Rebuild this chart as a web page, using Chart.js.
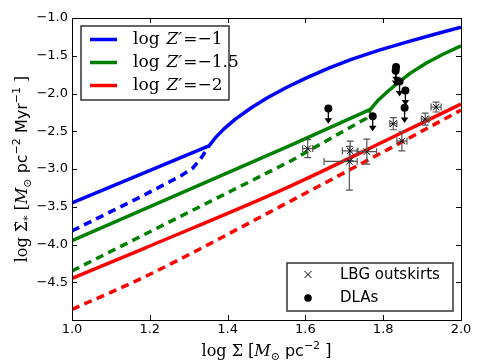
<!DOCTYPE html>
<html><head><meta charset="utf-8">
<script src="https://cdn.jsdelivr.net/npm/chart.js@4.4.1/dist/chart.umd.min.js"></script>
<style>html,body{margin:0;padding:0;background:#fff;}</style>
</head><body>
<canvas id="c" width="485" height="363"></canvas>
<script>
// ---- axis ranges & ticks ----
const xRange = [1.0, 2.0];
const yRange = [-5.0, -1.0];
const xTickValues = [1.0, 1.2, 1.4, 1.6, 1.8, 2.0];
const yTickValues = [-5.0, -4.5, -4.0, -3.5, -3.0, -2.5, -2.0, -1.5, -1.0];

// ---- model curves ----
const blueSolidX = [1.0, 1.352, 1.37, 1.39, 1.42, 1.46, 1.50, 1.55, 1.60, 1.66, 1.72, 1.79, 1.86, 1.93, 2.0];
const blueSolidY = [-3.45, -2.695, -2.578, -2.472, -2.34, -2.192, -2.064, -1.924, -1.799, -1.664, -1.544, -1.425, -1.32, -1.219, -1.121];
const blueDashX = [1.0, 1.186, 1.28, 1.31, 1.33, 1.352];
const blueDashY = [-3.82, -3.344, -3.09, -2.99, -2.87, -2.695];
const greenSolidX = [1.0, 1.56, 1.767, 1.785, 1.81, 1.84, 1.87, 1.91, 1.95, 2.0];
const greenSolidY = [-3.95, -2.69, -2.21, -2.10, -1.98, -1.85, -1.73, -1.60, -1.49, -1.37];
const greenDashX = [1.0, 1.56, 1.756, 1.767];
const greenDashY = [-4.35, -2.90, -2.33, -2.21];
const redSolidX = [1.0, 1.186, 1.56, 1.82, 2.0];
const redSolidY = [-4.45, -4.05, -3.23, -2.59, -2.14];
const redDashX = [1.0, 1.186, 1.56, 1.816, 2.0];
const redDashY = [-4.86, -4.43, -3.43, -2.73, -2.22];

// ---- LBG outskirts (with error bars) ----
const lbgX = [1.606, 1.715, 1.713, 1.758, 1.826, 1.848, 1.908, 1.936];
const lbgY = [-2.73, -2.76, -2.90, -2.77, -2.40, -2.63, -2.34, -2.18];
const lbgXErrLo = [0.013, 0.02, 0.065, 0.025, 0.009, 0.013, 0.010, 0.013];
const lbgXErrHi = [0.013, 0.02, 0.020, 0.025, 0.009, 0.013, 0.010, 0.013];
const lbgYErrLo = [0.12, 0.13, 0.38, 0.165, 0.08, 0.13, 0.08, 0.065];
const lbgYErrHi = [0.12, 0.13, 0.20, 0.165, 0.08, 0.13, 0.08, 0.065];

// ---- DLAs (upper limits) ----
const dlaX = [1.659, 1.773, 1.833, 1.832, 1.842, 1.857, 1.855];
const dlaY = [-2.20, -2.30, -1.65, -1.70, -1.84, -1.96, -2.19];

// ---- legend labels / titles ----
const modelLabels = ["log Z′=−1", "log Z′=−1.5", "log Z′=−2"];
const pointLabels = ["LBG outskirts", "DLAs"];
const colors = ["#0000ff", "#008000", "#ff0000"];

const pts = (xs, ys) => xs.map((x, i) => ({x: x, y: ys[i]}));
const lineDs = (label, xs, ys, color, dashed, smooth) => ({
  label, data: pts(xs, ys), showLine: true, borderColor: color, backgroundColor: color,
  borderWidth: 3.5, pointRadius: 0, borderDash: dashed ? [8, 5.5] : [], tension: 0,
  cubicInterpolationMode: smooth ? 'monotone' : 'default',
  borderCapStyle: 'butt', borderJoinStyle: 'round'
});

const fmt = v => (v < 0 ? '\u2212' : '') + Math.abs(v).toFixed(1);

const SERIF = '"DejaVu Serif", "Liberation Serif", serif';
const SANS = '"DejaVu Sans", sans-serif';

function drawRich(ctx, pieces, x, y) {
  let w = 0;
  pieces.forEach(p => { ctx.font = p.f; w += ctx.measureText(p.t).width; });
  let cx = x - w / 2;
  ctx.textBaseline = 'alphabetic';
  ctx.textAlign = 'left';
  pieces.forEach(p => { ctx.font = p.f; ctx.fillText(p.t, cx, y + (p.dy || 0)); cx += ctx.measureText(p.t).width; });
}

const decor = {
  id: 'decor',
  beforeDatasetDraw(chart, args) {
    const ctx = chart.ctx, xs = chart.scales.x, ys = chart.scales.y;
    const lbl = chart.data.datasets[args.index].label;
    if (lbl === pointLabels[0]) {
      ctx.save();
      ctx.strokeStyle = '#555'; ctx.lineWidth = 1.2;
      lbgX.forEach((x, i) => {
        const px = xs.getPixelForValue(x), py = ys.getPixelForValue(lbgY[i]);
        const x0 = xs.getPixelForValue(x - lbgXErrLo[i]), x1 = xs.getPixelForValue(x + lbgXErrHi[i]);
        const y0 = ys.getPixelForValue(lbgY[i] - lbgYErrLo[i]), y1 = ys.getPixelForValue(lbgY[i] + lbgYErrHi[i]);
        ctx.beginPath();
        ctx.moveTo(x0, py); ctx.lineTo(x1, py);
        ctx.moveTo(px, y0); ctx.lineTo(px, y1);
        ctx.moveTo(x0, py - 3.5); ctx.lineTo(x0, py + 3.5);
        ctx.moveTo(x1, py - 3.5); ctx.lineTo(x1, py + 3.5);
        ctx.moveTo(px - 3.5, y0); ctx.lineTo(px + 3.5, y0);
        ctx.moveTo(px - 3.5, y1); ctx.lineTo(px + 3.5, y1);
        ctx.stroke();
      });
      ctx.restore();
    }
    if (lbl === pointLabels[1]) {
      ctx.save();
      ctx.strokeStyle = '#000'; ctx.fillStyle = '#000'; ctx.lineWidth = 1.3;
      dlaX.forEach((x, i) => {
        const px = xs.getPixelForValue(x), py = ys.getPixelForValue(dlaY[i]);
        const tip = ys.getPixelForValue(dlaY[i] - 0.2);
        ctx.beginPath(); ctx.moveTo(px, py); ctx.lineTo(px, tip - 4); ctx.stroke();
        ctx.beginPath(); ctx.moveTo(px - 3.8, tip - 5.5); ctx.lineTo(px + 3.8, tip - 5.5); ctx.lineTo(px, tip); ctx.closePath(); ctx.fill();
      });
      ctx.restore();
    }
  },
  afterDraw(chart) {
    const ctx = chart.ctx, a = chart.chartArea, xs = chart.scales.x, ys = chart.scales.y;
    ctx.save();
    // frame
    ctx.strokeStyle = '#000'; ctx.lineWidth = 1;
    ctx.strokeRect(Math.round(a.left) + 0.5, Math.round(a.top) + 0.5, Math.round(a.right - a.left), Math.round(a.bottom - a.top));
    // inward ticks on all sides
    ctx.beginPath();
    xTickValues.forEach(v => {
      const p = Math.round(xs.getPixelForValue(v)) + 0.5;
      ctx.moveTo(p, a.bottom); ctx.lineTo(p, a.bottom - 5);
      ctx.moveTo(p, a.top); ctx.lineTo(p, a.top + 5);
    });
    yTickValues.forEach(v => {
      const p = Math.round(ys.getPixelForValue(v)) + 0.5;
      ctx.moveTo(a.left, p); ctx.lineTo(a.left + 5, p);
      ctx.moveTo(a.right, p); ctx.lineTo(a.right - 5, p);
    });
    ctx.stroke();

    // model legend
    ctx.fillStyle = '#fff'; ctx.strokeStyle = '#333'; ctx.lineWidth = 1.5;
    ctx.fillRect(81, 26, 148, 74); ctx.strokeRect(81, 26, 148, 74);
    [39.5, 62.5, 85.5].forEach((yy, i) => {
      ctx.strokeStyle = colors[i]; ctx.lineWidth = 3.5;
      ctx.beginPath(); ctx.moveTo(90, yy); ctx.lineTo(117, yy); ctx.stroke();
      ctx.fillStyle = '#000';
      const parts = modelLabels[i].split(' ');
      const rest = parts[1].slice(2);
      ctx.textBaseline = 'middle'; ctx.textAlign = 'left';
      let cx = 133;
      ctx.font = '17px ' + SERIF; ctx.fillText('log', cx, yy); cx += ctx.measureText('log').width + 7;
      ctx.font = 'italic 17px ' + SERIF; ctx.fillText('Z′', cx, yy); cx += ctx.measureText('Z′').width + 1;
      ctx.font = '17px ' + SERIF; ctx.fillText(rest, cx, yy);
    });

    // points legend
    ctx.fillStyle = '#fff'; ctx.strokeStyle = '#333'; ctx.lineWidth = 1.5;
    ctx.fillRect(287, 263, 166, 48); ctx.strokeRect(287, 263, 166, 48);
    ctx.strokeStyle = '#000'; ctx.lineWidth = 1;
    ctx.beginPath(); ctx.moveTo(304.5, 271); ctx.lineTo(311.5, 278); ctx.moveTo(311.5, 271); ctx.lineTo(304.5, 278); ctx.stroke();
    ctx.fillStyle = '#000';
    ctx.beginPath(); ctx.arc(308, 298, 3.8, 0, Math.PI * 2); ctx.fill();
    ctx.font = '15px ' + SANS; ctx.textBaseline = 'middle'; ctx.textAlign = 'left';
    ctx.fillText(pointLabels[0], 340, 275);
    ctx.fillText(pointLabels[1], 340, 298);

    // axis titles
    ctx.fillStyle = '#000';
    drawRich(ctx, [
      {t: 'log Σ [', f: '16px ' + SERIF},
      {t: 'M', f: 'italic 16px ' + SERIF},
      {t: '⊙', f: '11px ' + SERIF, dy: 4},
      {t: ' pc', f: '16px ' + SANS},
      {t: '−2', f: '11px ' + SANS, dy: -7},
      {t: ' ]', f: '16px ' + SERIF}
    ], (a.left + a.right) / 2, 356);
    ctx.save();
    ctx.translate(27, (a.top + a.bottom) / 2);
    ctx.rotate(-Math.PI / 2);
    drawRich(ctx, [
      {t: 'log Σ̇', f: '16px ' + SERIF},
      {t: '*', f: '11px ' + SERIF, dy: 4},
      {t: ' [', f: '16px ' + SERIF},
      {t: 'M', f: 'italic 16px ' + SERIF},
      {t: '⊙', f: '11px ' + SERIF, dy: 4},
      {t: ' pc', f: '16px ' + SANS},
      {t: '−2', f: '11px ' + SANS, dy: -7},
      {t: ' Myr', f: '16px ' + SANS},
      {t: '−1', f: '11px ' + SANS, dy: -7},
      {t: ' ]', f: '16px ' + SERIF}
    ], 0, 0);
    ctx.restore();
    ctx.restore();
  }
};

new Chart(document.getElementById('c'), {
  type: 'scatter',
  data: {
    datasets: [
      {label: pointLabels[0], data: pts(lbgX, lbgY), pointStyle: 'crossRot', pointRadius: 4.5, borderColor: '#000', backgroundColor: '#000', borderWidth: 1, showLine: false},
      {label: pointLabels[1], data: pts(dlaX, dlaY), pointStyle: 'circle', pointRadius: 4, borderColor: '#000', backgroundColor: '#000', borderWidth: 0, showLine: false},
      lineDs(modelLabels[0], blueSolidX, blueSolidY, colors[0], false, false),
      lineDs(modelLabels[0] + ' (dashed)', blueDashX, blueDashY, colors[0], true, false),
      lineDs(modelLabels[1], greenSolidX, greenSolidY, colors[1], false, false),
      lineDs(modelLabels[1] + ' (dashed)', greenDashX, greenDashY, colors[1], true, false),
      lineDs(modelLabels[2], redSolidX, redSolidY, colors[2], false, true),
      lineDs(modelLabels[2] + ' (dashed)', redDashX, redDashY, colors[2], true, true)
    ]
  },
  options: {
    responsive: false, animation: false, devicePixelRatio: 1,
    layout: {padding: {left: 0, top: 18, right: 24, bottom: 0}},
    plugins: {legend: {display: false}, tooltip: {enabled: false}},
    scales: {
      x: {
        type: 'linear', min: xRange[0], max: xRange[1],
        afterBuildTicks: s => { s.ticks = xTickValues.map(v => ({value: v})); },
        afterFit: s => { s.height = 43; },
        grid: {display: false, drawTicks: false},
        border: {display: true, color: '#000', width: 1},
        ticks: {color: '#000', font: {family: SANS, size: 13}, padding: 2, maxRotation: 0, callback: v => fmt(v)}
      },
      y: {
        type: 'linear', min: yRange[0], max: yRange[1],
        afterBuildTicks: s => { s.ticks = yTickValues.map(v => ({value: v})); },
        afterFit: s => { s.width = 72; },
        grid: {display: false, drawTicks: false},
        border: {display: true, color: '#000', width: 1},
        ticks: {color: '#000', font: {family: SANS, size: 13}, padding: 4, callback: v => (v === yRange[0] ? '' : fmt(v))}
      }
    }
  },
  plugins: [decor]
});
</script>
</body></html>
